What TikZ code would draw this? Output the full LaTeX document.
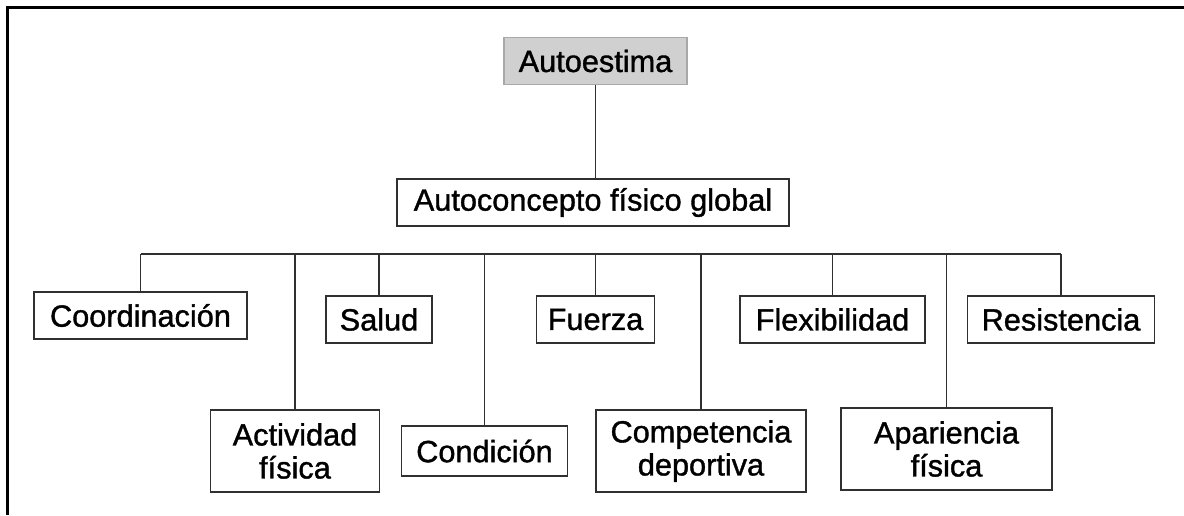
\documentclass[tikz,border=0pt]{standalone}
\usepackage{fontspec}
\setmainfont{Liberation Sans}
\newfontfamily\heavy[BoldFont={Liberation Sans}, BoldFeatures={FakeBold=1.2}]{Liberation Sans}
\definecolor{boxgray}{HTML}{D0D0D0}
\definecolor{boxedge}{HTML}{A8A8A8}
\definecolor{linecol}{HTML}{303030}
\begin{document}
\begin{tikzpicture}[x=1pt,y=-1pt,
  every node/.style={font=\heavy\bfseries\fontsize{30.7}{33}\selectfont, inner sep=0pt, align=center},
  box/.style={draw=linecol, line width=1.8pt, fill=white},
  topbox/.style={draw=boxedge, line width=1.8pt, fill=boxgray},
  conn/.style={draw=linecol, line width=1.8pt},
  frame/.style={draw=black, line width=3pt}]
\useasboundingbox (0,0) rectangle (1184,515);
% frame
\coordinate (fTL) at (7,7);
\coordinate (fTR) at (1184,7);
\coordinate (fBL) at (7,515);
\draw[frame] (fTR) -- (fTL) -- (fBL);
% nodes
\node[topbox, minimum width=183pt, minimum height=47pt] (auto) at (595.5,61) {Autoestima};
\node[box, minimum width=392pt, minimum height=47pt] (glob) at (593,202.5) {Autoconcepto físico global};
\node[box, minimum width=213pt, minimum height=47pt] (coord) at (140.5,315.5) {Coordinación};
\node[box, minimum width=169pt, minimum height=82pt] (activ) at (295,451) {Actividad\\física};
\node[box, minimum width=106pt, minimum height=47pt] (salud) at (379,319.5) {Salud};
\node[box, minimum width=166pt, minimum height=50pt] (cond) at (484.5,451) {Condición};
\node[box, minimum width=118pt, minimum height=47pt] (fuer) at (595.5,319.5) {Fuerza};
\node[box, minimum width=210pt, minimum height=82pt] (comp) at (701,451) {Competencia\\deportiva};
\node[box, minimum width=185pt, minimum height=47pt] (flex) at (832.5,319.5) {Flexibilidad};
\node[box, minimum width=211pt, minimum height=82pt] (apar) at (946.5,449) {Apariencia\\física};
\node[box, minimum width=187pt, minimum height=47pt] (resi) at (1061,319.5) {Resistencia};
% connectors
\draw[conn] (auto.south) -- (auto.south |- glob.north);
\coordinate (bus) at (0,254);
\draw[conn] (coord.north |- bus) -- (resi.north |- bus);
\foreach \n in {coord,activ,salud,cond,fuer,comp,flex,apar,resi}{
  \draw[conn] (\n.north) -- (\n.north |- bus);
}
\end{tikzpicture}
\end{document}
